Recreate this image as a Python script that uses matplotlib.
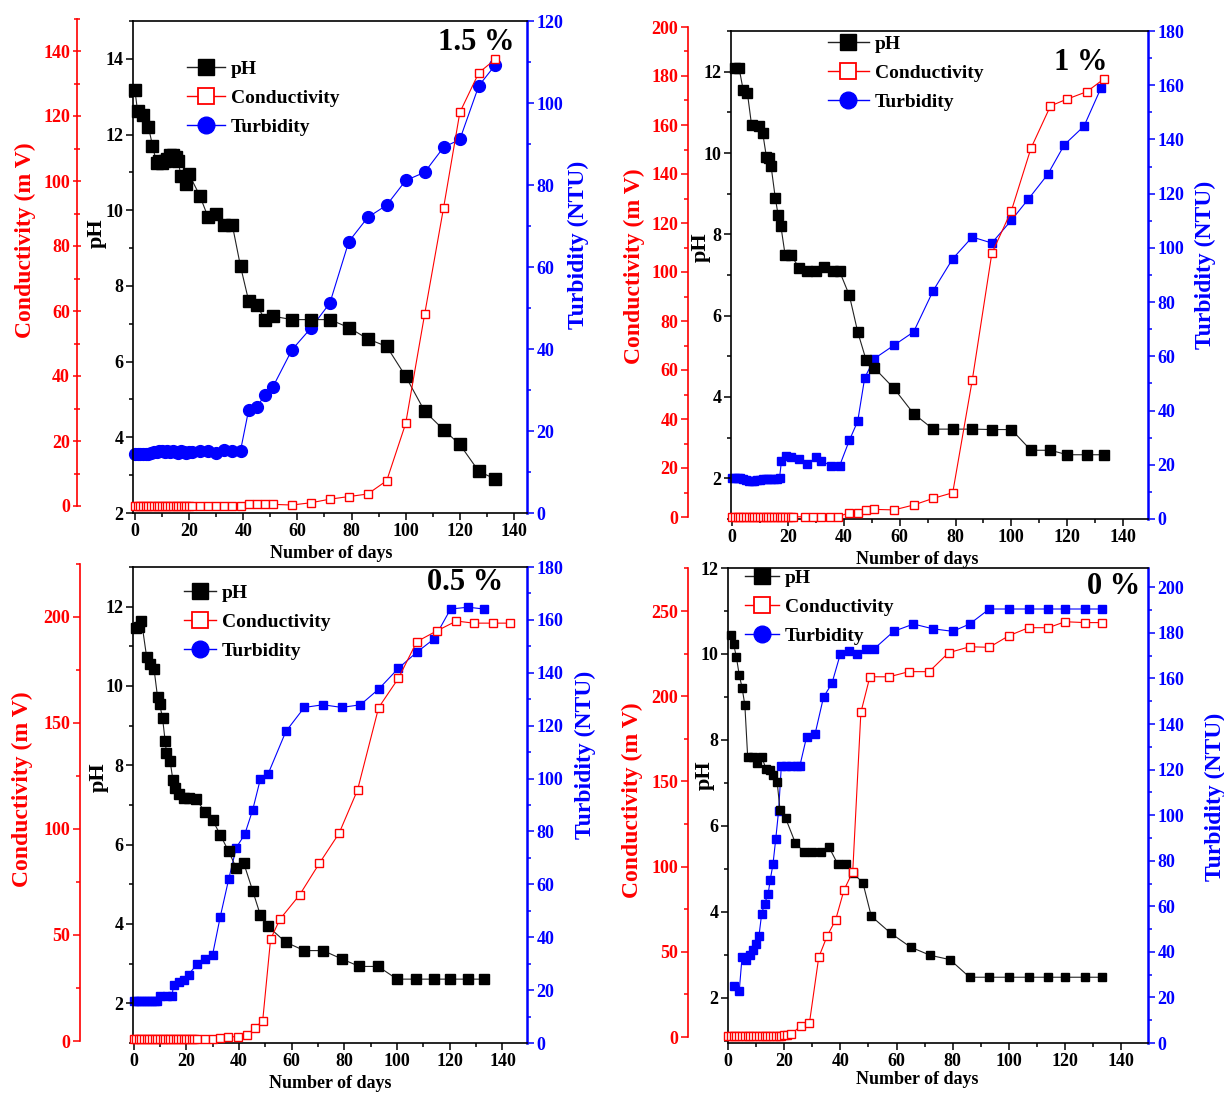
import matplotlib
matplotlib.use('Agg')
import matplotlib.pyplot as plt
from matplotlib.lines import Line2D
from matplotlib.ticker import MultipleLocator

plt.rcParams['font.family'] = ['Liberation Serif', 'DejaVu Serif']
plt.rcParams['font.weight'] = 'bold'

RED = '#ff0000'
BLUE = '#0000ff'

# ---------------- 1.5 % ----------------
ph15_days = [0, 1, 3, 5, 6.5, 8, 9, 10, 11, 12, 13, 14, 15, 16, 17, 19, 20, 24, 27, 30, 33, 36, 39,
             42, 45, 48, 51, 58, 65, 72, 79, 86, 93, 100, 107, 114, 120, 127, 133]
ph15 = [13.18, 12.61, 12.52, 12.2, 11.71, 11.25, 11.3, 11.25, 11.3, 11.35, 11.45, 11.45, 11.4, 11.3,
        10.9, 10.68, 10.95, 10.38, 9.82, 9.9, 9.6, 9.6, 8.52, 7.61, 7.5, 7.11, 7.2, 7.11, 7.11, 7.11,
        6.9, 6.6, 6.4, 5.61, 4.69, 4.2, 3.81, 3.1, 2.9]
con15_days = list(range(0, 22)) + [24, 27, 30, 33, 36, 39, 42, 45, 48, 51,
                                   58, 65, 72, 79, 86, 93, 100, 107, 114, 120, 127, 133]
con15 = [0.1] * 22 + [0.1, 0.1, 0.1, 0.1, 0.1, 0.1, 0.5, 0.5, 0.5, 0.5,
                      0.3, 1.0, 2.1, 2.9, 3.7, 7.8, 25.4, 59.0, 91.8, 121.1, 133.3, 137.4]
tur15_days = list(range(0, 22)) + [24, 27, 30, 33, 36, 39, 42, 45, 48, 51,
                                   58, 65, 72, 79, 86, 93, 100, 107, 114, 120, 127, 133]
tur15 = [14.3, 14.3, 14.3, 14.4, 14.4, 14.5, 14.6, 14.8, 15.0, 15.2, 15.1, 15.0, 15.2, 14.8, 15.1,
         15.0, 14.7, 15.1, 14.9, 14.6, 15.0, 14.8,
         15.2, 15.2, 14.7, 15.3, 15.2, 15.2, 25.1, 25.8, 28.8, 30.8,
         39.8, 45.1, 51.2, 66.2, 72.1, 75.1, 81.1, 83.1, 89.2, 91.1, 104.2, 109.2]

# ---------------- 1 % ----------------
ph1_days = [1, 2.5, 4, 5.5, 7, 9.5, 11, 12.3, 13.3, 14, 15.5, 16.5, 17.5, 19, 21, 24, 27, 30, 33,
            36, 38.5, 42, 45, 48, 51, 58, 65, 72, 79, 86, 93, 100, 107, 114, 120, 127, 133]
ph1 = [12.1, 12.1, 11.55, 11.48, 10.69, 10.67, 10.49, 9.91, 9.87, 9.67, 8.89, 8.48, 8.2, 7.5, 7.5,
       7.18, 7.09, 7.09, 7.2, 7.09, 7.09, 6.5, 5.6, 4.91, 4.71, 4.21, 3.59, 3.21, 3.21, 3.21,
       3.2, 3.2, 2.69, 2.69, 2.58, 2.58, 2.58]
con1_days = list(range(0, 23)) + [26, 29, 32, 35, 38, 42, 45, 48, 51,
                                  58, 65, 72, 79, 86, 93, 100, 107, 114, 120, 127, 133]
con1 = [0.1] * 23 + [0.1, 0.1, 0.1, 0.1, 0.1, 1.8, 1.8, 2.9, 3.1,
                     2.9, 4.9, 7.6, 9.9, 55.9, 107.6, 125.0, 150.5, 167.8, 170.6, 173.6, 178.7]
tur1_days = list(range(0, 18)) + [17.7, 19.5, 21, 24, 27, 30, 32, 35.5, 38.5, 42, 45, 47.5, 51,
                                  58, 65, 72, 79, 86, 93, 100, 106, 113, 119, 126, 132]
tur1 = [15.3, 15.3, 15.2, 15.0, 14.8, 14.4, 14.1, 14.1, 14.1, 14.3, 14.4, 14.6, 14.7, 14.7, 14.7,
        14.7, 14.8, 15.0,
        21.4, 23.3, 22.7, 22.1, 20.2, 22.7, 21.4, 19.6, 19.6, 29.0, 36.1, 52.1, 59.2,
        64.1, 69.0, 84.2, 96.0, 104.0, 101.8, 110.2, 117.9, 127.1, 138.1, 144.9, 158.8]

# ---------------- 0.5 % ----------------
ph05_days = [1, 2, 3, 5, 6.3, 7.8, 9.1, 9.9, 11, 12, 12.5, 13.9, 14.9, 15.8, 17.1, 19, 20.9, 23.8,
             27.2, 30, 32.9, 36.1, 39, 41.8, 45.2, 48.1, 51, 57.8, 64.8, 71.9, 79, 85.7, 92.8,
             100, 107, 114, 120, 127, 133]
ph05 = [11.45, 11.5, 11.65, 10.72, 10.55, 10.42, 9.73, 9.54, 9.2, 8.61, 8.32, 8.11, 7.64, 7.43,
        7.27, 7.18, 7.18, 7.14, 6.82, 6.62, 6.25, 5.83, 5.41, 5.54, 4.84, 4.23, 3.94, 3.54, 3.33,
        3.33, 3.12, 2.93, 2.93, 2.61, 2.61, 2.61, 2.61, 2.61, 2.61]
con05_days = list(range(0, 25)) + [27, 30, 33, 36, 39.5, 43, 46, 49, 52, 55.5, 63, 70.5, 78, 85,
                                   93, 100.5, 107.5, 115, 122.5, 129, 136.5, 143]
con05 = [0.8] * 25 + [1.1, 1.1, 1.6, 2.0, 2.0, 2.6, 6.3, 9.4, 47.9, 57.3, 68.8, 83.7, 97.9, 118.3,
                      157.1, 170.9, 188.2, 193.2, 197.9, 196.9, 196.9, 196.9]
tur05_days = list(range(0, 10)) + [10, 12.7, 14.6, 15.2, 17.1, 19, 20.9, 24, 27.2, 30, 32.9, 36.1,
                                   39, 42.2, 45.2, 48.1, 51, 57.8, 64.8, 71.9, 79, 86.1, 93,
                                   100.5, 107.4, 114, 120.3, 126.9, 133.1]
tur05 = [15.8] * 10 + [17.7, 17.7, 17.7, 22.1, 23.0, 24.0, 25.9, 29.7, 31.6, 33.4, 47.7, 61.9,
                       73.9, 78.9, 88.1, 99.7, 101.6, 117.8, 126.9, 127.9, 126.9, 127.9, 133.8,
                       141.7, 147.7, 152.8, 164.1, 164.8, 164.1]

# ---------------- 0 % ----------------
ph0_days = [1, 2, 3, 4, 5, 6, 7, 9, 10.5, 12, 13.5, 15, 16, 17.5, 18.5, 20.5, 24, 27, 30, 33, 36,
            39, 42, 44.5, 48, 51, 58, 65, 72, 79, 86, 93, 100, 107, 114, 120, 127, 133]
ph0 = [10.43, 10.23, 9.92, 9.51, 9.22, 8.81, 7.61, 7.61, 7.47, 7.61, 7.33, 7.3, 7.19, 7.02, 6.38,
       6.18, 5.6, 5.4, 5.4, 5.4, 5.5, 5.12, 5.12, 4.9, 4.68, 3.9, 3.5, 3.18, 2.99, 2.89, 2.48,
       2.48, 2.48, 2.48, 2.48, 2.48, 2.48, 2.48]
con0_days = list(range(0, 22)) + [22.5, 26, 29, 32.3, 35.3, 38.3, 41.3, 44.4, 47.3, 50.5, 57.4,
                                  64.4, 71.6, 78.5, 86, 93, 100, 107, 114, 120, 127, 133]
con0 = [0.6] * 20 + [1.0, 1.0] + [1.8, 6.5, 8.4, 46.8, 59.3, 68.7, 86.3, 97.0, 190.5, 211.4,
                                  211.4, 214.4, 214.4, 225.5, 229.0, 228.7, 235.5, 240.2, 240.2,
                                  243.7, 243.2, 243.2]
tur0_days = [2, 4, 5, 6.3, 7.7, 9, 10, 11, 12, 13, 14.3, 15, 16, 17, 18, 19, 20.8, 22.6, 24.4,
             25.6, 28, 31, 34, 37, 40, 43, 46, 49, 52, 59, 66, 73, 80, 86,
             93, 100, 107, 114, 120, 127, 133]
tur0 = [24.9, 22.8, 37.7, 36.3, 38.5, 40.7, 43.6, 46.8, 56.8, 61.1, 65.5, 71.4, 78.4, 89.6, 101.8,
        121.8, 121.8, 121.8, 121.8, 121.8, 134.5, 135.7, 151.8, 157.9, 170.8, 171.9, 170.8, 173.0,
        173.0, 180.7, 183.9, 181.8, 180.7, 183.9, 190.5, 190.5, 190.5, 190.5, 190.5, 190.5, 190.5]

legend_labels = ['pH', 'Conductivity', 'Turbidity']
x_label = 'Number of days'
red_label = 'Conductivity (m V)'
blue_label = 'Turbidity (NTU)'

W, H = 1224, 1095
fig = plt.figure(figsize=(W / 100, H / 100), dpi=100)
fig.patch.set_facecolor('white')


def fbox(l, r, t, b):
    return [l / W, 1 - b / H, (r - l) / W, (b - t) / H]


def panel(frame, xlim, ph_lim, tur_lim, red_lim, red_box, red_x, red_major, red_minor,
          ph_d, ph_v, con_d, con_v, tur_d, tur_v, tur_marker, ms_ph, ms_tur, ms_con,
          pos_red, pos_ph, pos_blue, pos_x, leg_xy, leg_hl, pct, pct_xy, red_dir='out'):
    l, r, t, b = frame
    ax = fig.add_axes(fbox(l, r, t, b))
    tax = ax.twinx()
    rax = fig.add_axes(fbox(l, r, red_box[0], red_box[1]), sharex=ax)
    tax.set_zorder(1)
    ax.set_zorder(2)
    rax.set_zorder(3)
    ax.patch.set_visible(False)
    rax.patch.set_visible(False)

    # main pH axis
    ax.set_xlim(*xlim)
    ax.set_ylim(*ph_lim)
    ax.xaxis.set_major_locator(MultipleLocator(20))
    ax.xaxis.set_minor_locator(MultipleLocator(10))
    ax.yaxis.set_major_locator(MultipleLocator(2))
    ax.yaxis.set_minor_locator(MultipleLocator(1))
    ax.tick_params(which='both', direction='out', labelsize=13, width=1.1, pad=2)
    ax.tick_params(which='major', length=5)
    ax.tick_params(which='minor', length=3)
    ax.spines['right'].set_visible(False)
    for s in ('left', 'bottom', 'top'):
        ax.spines[s].set_linewidth(1.2)

    # turbidity axis
    tax.set_ylim(*tur_lim)
    tax.yaxis.set_major_locator(MultipleLocator(20))
    tax.yaxis.set_minor_locator(MultipleLocator(10))
    tax.tick_params(which='both', direction='out', colors=BLUE, labelsize=13, width=1.1, pad=2)
    tax.tick_params(which='major', length=5)
    tax.tick_params(which='minor', length=3)
    for s in ('left', 'bottom', 'top'):
        tax.spines[s].set_visible(False)
    tax.spines['right'].set_color(BLUE)
    tax.spines['right'].set_linewidth(1.8)

    # conductivity axis
    rax.set_ylim(*red_lim)
    rax.xaxis.set_visible(False)
    for s in ('right', 'bottom', 'top'):
        rax.spines[s].set_visible(False)
    rax.spines['left'].set_position(('axes', (red_x - l) / (r - l)))
    rax.spines['left'].set_color(RED)
    rax.spines['left'].set_linewidth(1.2)
    rax.yaxis.set_major_locator(MultipleLocator(red_major))
    rax.yaxis.set_minor_locator(MultipleLocator(red_minor))
    rax.tick_params(which='both', direction=red_dir, colors=RED, labelsize=13, width=1.1, pad=2)
    rax.tick_params(which='major', length=6 if red_dir == 'inout' else 5)
    rax.tick_params(which='minor', length=4 if red_dir == 'inout' else 3)

    # data
    tax.plot(tur_d, tur_v, color=BLUE, lw=0.8, marker=tur_marker, ms=ms_tur, mec=BLUE,
             mfc=BLUE, clip_on=False)
    ax.plot(ph_d, ph_v, color='#222222', lw=0.8, marker='s', ms=ms_ph, mec='black',
            mfc='black', clip_on=False)
    rax.plot(con_d, con_v, color=RED, lw=0.8, marker='s', ms=ms_con, mec=RED, mfc='white',
             mew=1.0, clip_on=False)

    # labels
    ax.set_xlabel(x_label, fontsize=13, fontweight='bold')
    ax.xaxis.label.set_verticalalignment('center')
    ax.xaxis.set_label_coords(pos_x[0] / W, 1 - pos_x[1] / H, transform=fig.transFigure)
    ax.set_ylabel('pH', fontsize=16, fontweight='bold')
    ax.yaxis.label.set_verticalalignment('center')
    ax.yaxis.set_label_coords(pos_ph[0] / W, 1 - pos_ph[1] / H, transform=fig.transFigure)
    tax.set_ylabel(blue_label, fontsize=17, fontweight='bold', color=BLUE)
    tax.yaxis.label.set_verticalalignment('center')
    tax.yaxis.set_label_coords(pos_blue[0] / W, 1 - pos_blue[1] / H, transform=fig.transFigure)
    rax.set_ylabel(red_label, fontsize=17, fontweight='bold', color=RED)
    rax.yaxis.label.set_verticalalignment('center')
    rax.yaxis.set_label_coords(pos_red[0] / W, 1 - pos_red[1] / H, transform=fig.transFigure)

    handles = [Line2D([], [], color='#222222', lw=1, marker='s', ms=11, mfc='black', mec='black'),
               Line2D([], [], color=RED, lw=1, marker='s', ms=11, mfc='white', mec=RED, mew=1.3),
               Line2D([], [], color=BLUE, lw=1, marker='o', ms=12, mfc=BLUE, mec=BLUE)]
    leg = rax.legend(handles, legend_labels, loc='upper left',
                     bbox_to_anchor=(leg_xy[0] / W, 1 - leg_xy[1] / H),
                     bbox_transform=fig.transFigure, frameon=False,
                     prop={'family': 'Liberation Serif', 'weight': 'bold', 'size': 14},
                     handlelength=leg_hl, handletextpad=0.3, labelspacing=0.6,
                     borderpad=0, borderaxespad=0)
    leg.set_zorder(10)

    fig.text(pct_xy[0] / W, 1 - pct_xy[1] / H, pct, ha='right', va='center',
             fontsize=22, fontweight='bold')
    return ax


# 1.5 %
panel(frame=(133, 527, 21, 513), xlim=(-0.7, 144.8), ph_lim=(2, 15), tur_lim=(0, 120),
      red_lim=(0, 150), red_box=(18.5, 506), red_x=77, red_major=20, red_minor=10,
      ph_d=ph15_days, ph_v=ph15, con_d=con15_days, con_v=con15, tur_d=tur15_days, tur_v=tur15,
      tur_marker='o', ms_ph=9, ms_tur=8.5, ms_con=6,
      pos_red=(25, 240), pos_ph=(97, 233), pos_blue=(578, 245), pos_x=(331, 553),
      leg_xy=(187, 60), leg_hl=1.95, pct='1.5 %', pct_xy=(515, 43), red_dir='inout')

# 1 %
panel(frame=(731, 1148, 31, 519), xlim=(-0.36, 148.9), ph_lim=(1, 13), tur_lim=(0, 180),
      red_lim=(0, 200), red_box=(27, 517), red_x=688, red_major=20, red_minor=10,
      ph_d=ph1_days, ph_v=ph1, con_d=con1_days, con_v=con1, tur_d=tur1_days, tur_v=tur1,
      tur_marker='s', ms_ph=6.8, ms_tur=6, ms_con=6,
      pos_red=(634, 266), pos_ph=(701, 247), pos_blue=(1205, 265), pos_x=(917, 560),
      leg_xy=(828, 35), leg_hl=2.1, pct='1 %', pct_xy=(1107, 63))

# 0.5 %
panel(frame=(133, 527, 567, 1043), xlim=(-0.2, 149.3), ph_lim=(1, 13), tur_lim=(0, 180),
      red_lim=(0, 225), red_box=(563.5, 1041), red_x=80, red_major=50, red_minor=25,
      ph_d=ph05_days, ph_v=ph05, con_d=con05_days, con_v=con05, tur_d=tur05_days, tur_v=tur05,
      tur_marker='s', ms_ph=6.5, ms_tur=6, ms_con=6,
      pos_red=(22, 789), pos_ph=(99, 777), pos_blue=(585, 755), pos_x=(330, 1084),
      leg_xy=(184, 584), leg_hl=1.65, pct='0.5 %', pct_xy=(503, 582))

# 0 %
panel(frame=(728, 1148, 568, 1043), xlim=(0, 149.5), ph_lim=(0.95, 12), tur_lim=(0, 208.5),
      red_lim=(0, 275), red_box=(568.4, 1037), red_x=688, red_major=50, red_minor=25,
      ph_d=ph0_days, ph_v=ph0, con_d=con0_days, con_v=con0, tur_d=tur0_days, tur_v=tur0,
      tur_marker='s', ms_ph=6.3, ms_tur=6, ms_con=6,
      pos_red=(632, 800), pos_ph=(705, 775), pos_blue=(1215, 797), pos_x=(917, 1080),
      leg_xy=(745, 569), leg_hl=1.75, pct='0 %', pct_xy=(1140, 586))

fig.savefig('out.png', dpi=100, facecolor='white')
